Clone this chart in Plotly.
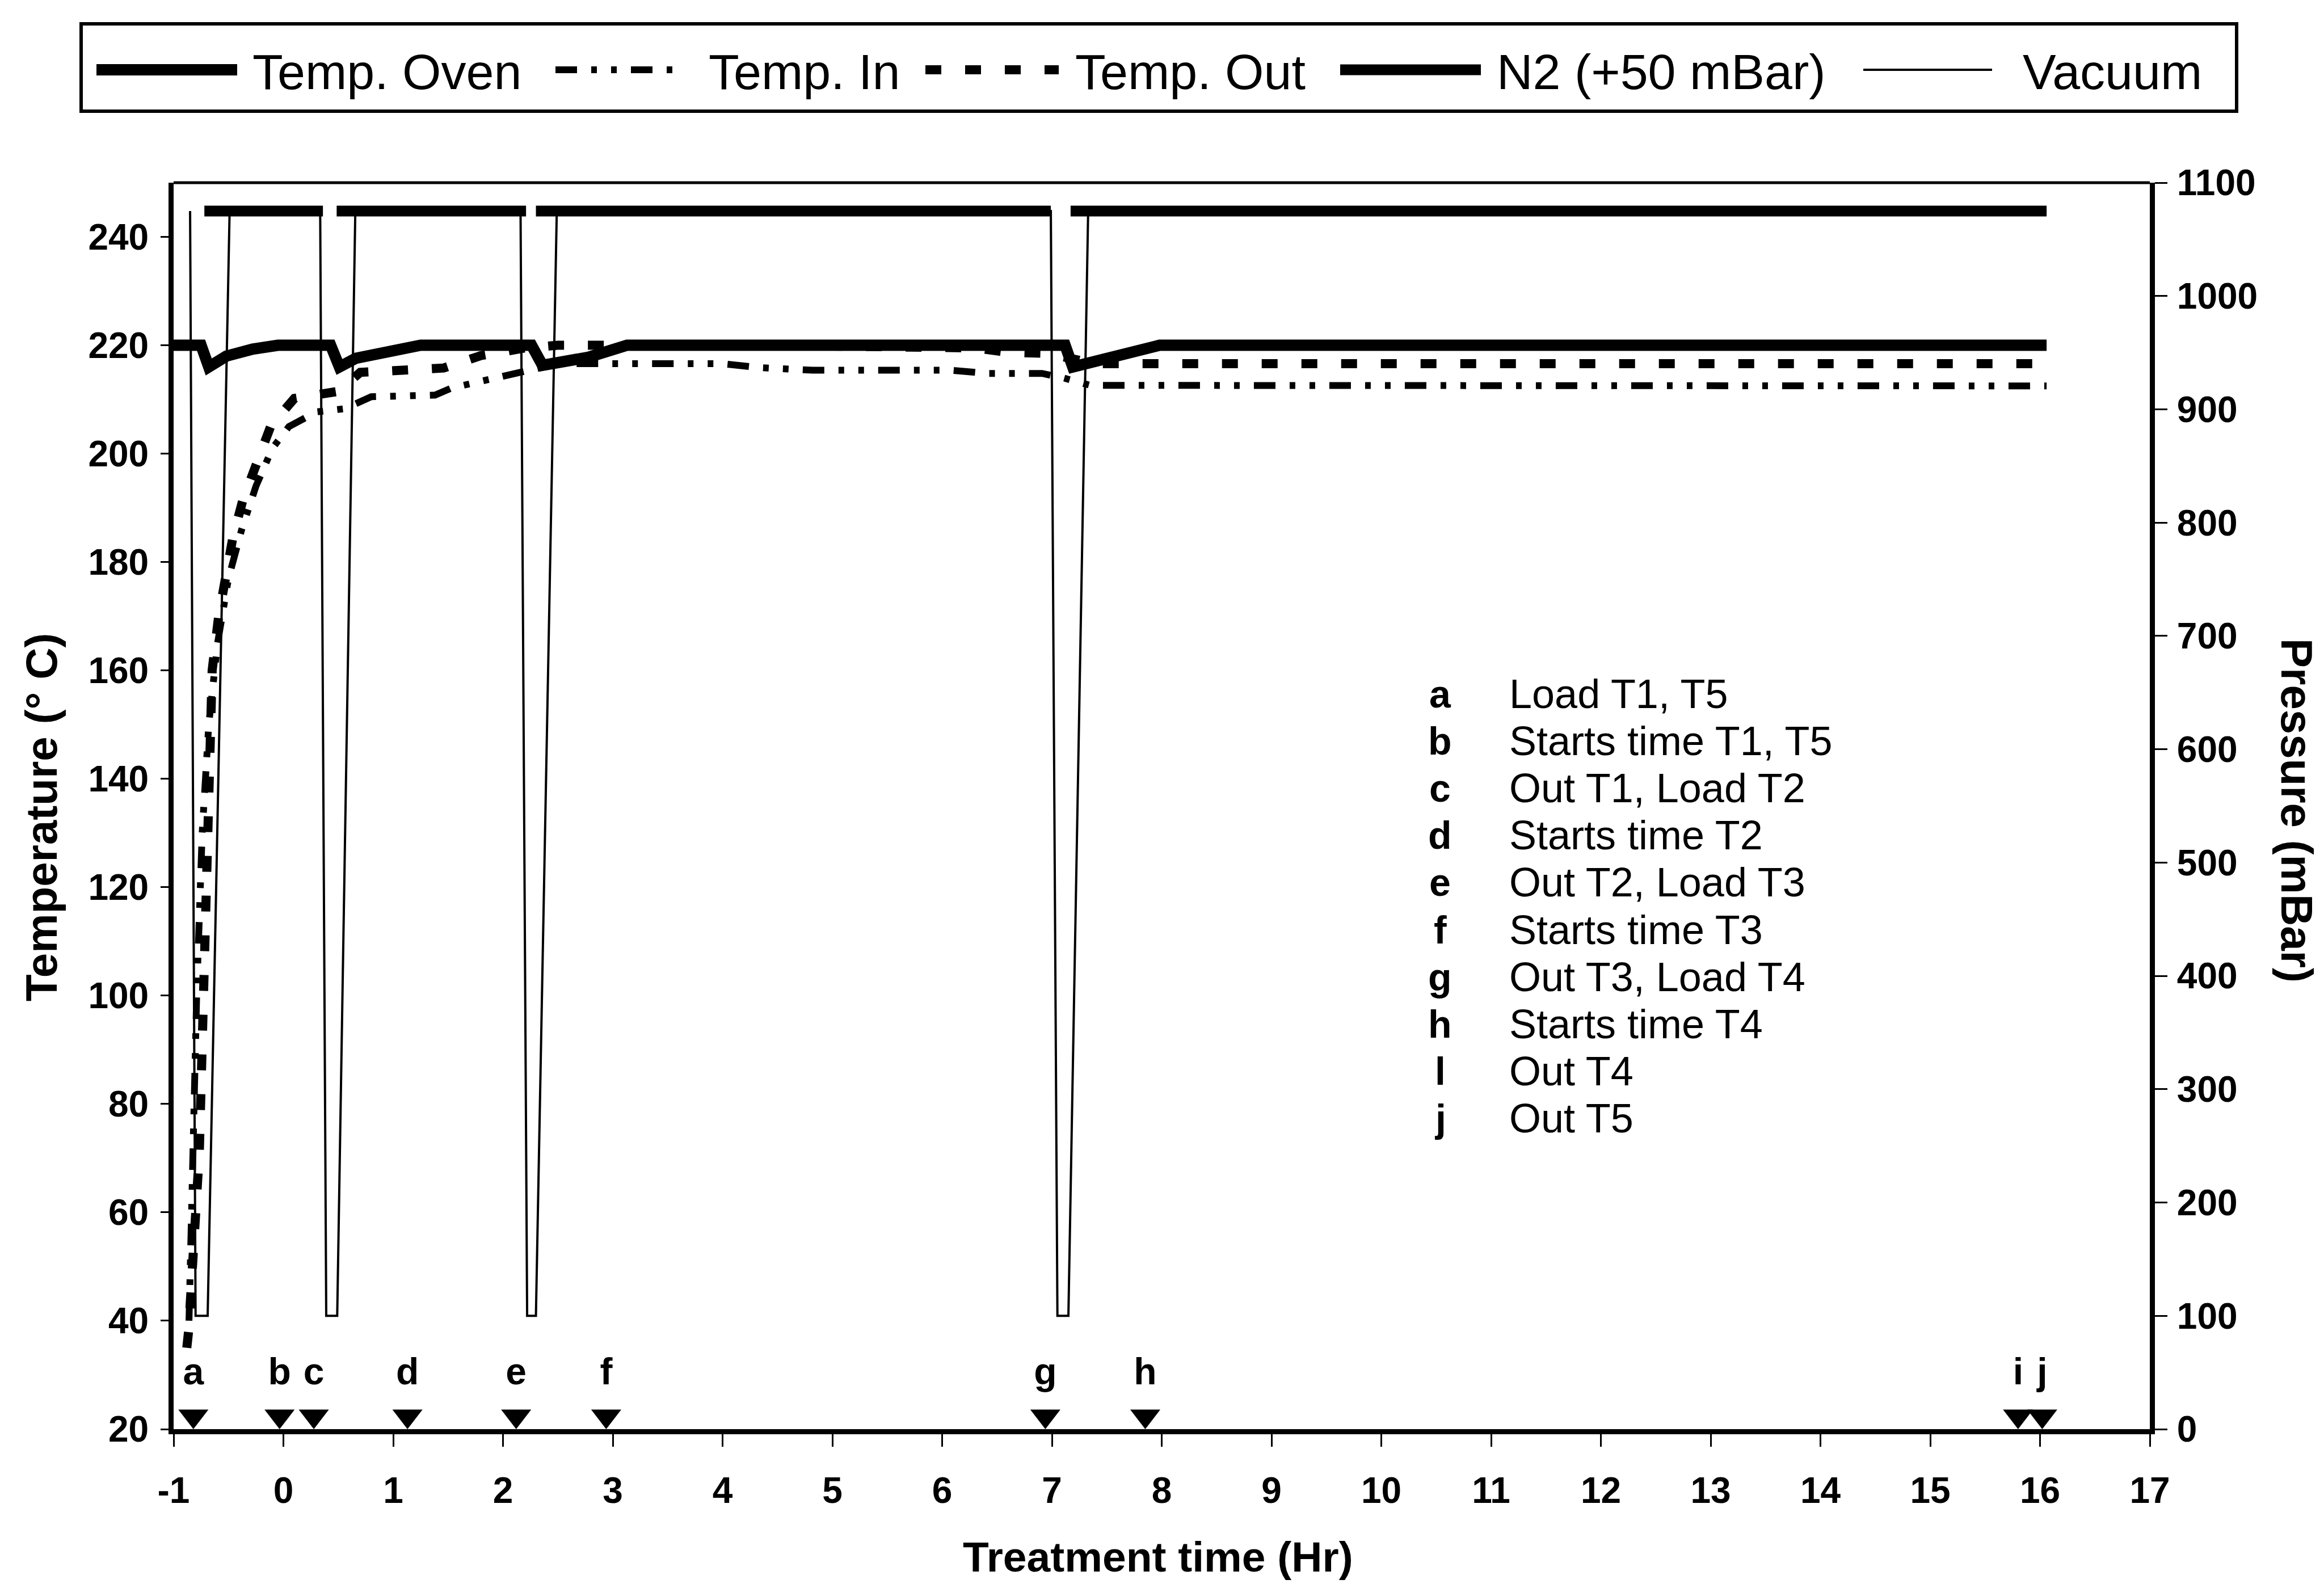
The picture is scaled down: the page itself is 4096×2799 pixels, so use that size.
import plotly.graph_objects as go

# ---------------------------------------------------------------- data
# treatment time (h) and temperatures (deg C)
oven_t = [-1.0, -0.75, -0.68, -0.52, -0.28, -0.05, 0.43, 0.51, 0.66, 0.99, 1.25,
          2.26, 2.36, 2.78, 3.13, 7.12, 7.19, 7.98, 16.06]
oven_T = [220, 220, 216, 218, 219.3, 220, 220, 216, 217.6, 218.9, 220,
          220, 216.3, 217.8, 220, 220, 216, 220, 220]

temp_in_t = [-0.86, -0.83, -0.79, -0.74, -0.68, -0.60, -0.50, -0.38, -0.25, -0.10,
             0.05, 0.30, 0.56, 0.80, 1.38, 1.53, 1.88, 2.08, 2.23, 2.50, 4.00,
             4.32, 4.82, 6.07, 6.42, 6.91, 7.10, 7.35, 16.06]
temp_in_T = [40, 70, 100, 130, 150, 165, 177, 186, 194, 201,
             205, 207.7, 208.3, 210.5, 210.8, 212.1, 213.8, 214.8, 215.4, 216.6, 216.6,
             215.9, 215.4, 215.4, 214.8, 214.8, 214.0, 212.6, 212.5]

temp_out_t = [-0.88, -0.864, -0.766, -0.717, -0.683, -0.649, -0.59, -0.52, -0.46, -0.37,
              -0.25, -0.115, 0.10, 0.30, 0.50, 0.70, 1.00, 1.46, 1.80, 2.20, 2.50,
              4.50, 6.30, 6.60, 6.95, 7.20, 7.40, 16.06]
temp_out_T = [35, 38, 71, 115, 138, 160, 170, 179, 184.6, 191.4,
              198.3, 205.1, 210.2, 211.0, 211.5, 215.0, 215.2, 215.8, 218.1, 219.5, 220,
              220, 219.5, 218.7, 218.5, 217.5, 216.6, 216.6]

# pressure (mbar)
n2_t = [-0.72, 0.36, None, 0.485, 2.21, None, 2.30, 6.99, None, 7.17, 16.06]
n2_p = [1075, 1075, None, 1075, 1075, None, 1075, 1075, None, 1075, 1075]

vac_t = [-0.85, -0.80, -0.69, -0.49, 0.335, 0.39, 0.49, 0.655, 2.16, 2.22, 2.30, 2.49,
         6.99, 7.05, 7.15, 7.33, 16.06]
vac_p = [1075, 100, 100, 1075, 1075, 100, 100, 1075, 1075, 100, 100, 1075,
         1075, 100, 100, 1075, 1075]

# process events
event_keys = ["a", "b", "c", "d", "e", "f", "g", "h", "i", "j"]
event_t = [-0.82, -0.035, 0.277, 1.13, 2.12, 2.94, 6.94, 7.85, 15.8, 16.02]
table_keys = ["a", "b", "c", "d", "e", "f", "g", "h", "l", "j"]
event_desc = ["Load T1, T5", "Starts time T1, T5", "Out T1, Load T2", "Starts time T2",
              "Out T2, Load T3", "Starts time T3", "Out T3, Load T4", "Starts time T4",
              "Out T4", "Out T5"]

x_ticks = list(range(-1, 18))
temp_ticks = list(range(20, 241, 20))
press_ticks = list(range(0, 1101, 100))

series_names = ["Temp. Oven", "Temp. In", "Temp. Out", "N2 (+50 mBar)", "Vacuum"]

# ---------------------------------------------------------------- layout geometry
W, H = 4096, 2799
L, R, T, B = 306, 3789, 322, 2519
FONT = "Liberation Sans, Arial, sans-serif"

IN_DASH = "38px,25px,10px,25px,10px,25px"
OUT_DASH = "28px,42px"
MARK_Y = 22.4
LABEL_Y = 30.0


def px(x):
    return (x - L) / (R - L)


def py(y):
    return (B - y) / (B - T)


fig = go.Figure()

fig.add_trace(go.Scatter(x=vac_t, y=vac_p, yaxis="y2", mode="lines", name=series_names[4],
                         line=dict(color="black", width=4), showlegend=False))
fig.add_trace(go.Scatter(x=n2_t, y=n2_p, yaxis="y2", mode="lines", name=series_names[3],
                         line=dict(color="black", width=19), connectgaps=False, showlegend=False))
fig.add_trace(go.Scatter(x=temp_in_t, y=temp_in_T, mode="lines", name=series_names[1],
                         line=dict(color="black", width=12, dash=IN_DASH), showlegend=False))
fig.add_trace(go.Scatter(x=temp_out_t, y=temp_out_T, mode="lines", name=series_names[2],
                         line=dict(color="black", width=16, dash=OUT_DASH), showlegend=False))
fig.add_trace(go.Scatter(x=oven_t, y=oven_T, mode="lines", name=series_names[0],
                         line=dict(color="black", width=20), showlegend=False))

# event markers on the time axis with their letters
fig.add_trace(go.Scatter(x=event_t, y=[MARK_Y] * len(event_t), mode="markers",
                         marker=dict(symbol="triangle-down", size=46, color="black"),
                         cliponaxis=False, showlegend=False, hoverinfo="skip"))
fig.add_trace(go.Scatter(x=event_t, y=[LABEL_Y] * len(event_t), mode="text",
                         text=event_keys, textposition="middle center",
                         textfont=dict(family=FONT, size=66, color="black", weight="bold"),
                         cliponaxis=False, showlegend=False, hoverinfo="skip"))

tickfont = dict(family=FONT, size=64, color="black", weight="bold")
fig.update_layout(
    width=W, height=H, autosize=False,
    margin=dict(l=L, r=W - R, t=T, b=H - B, pad=0),
    paper_bgcolor="white", plot_bgcolor="white",
    font=dict(family=FONT, color="black"),
    showlegend=False,
    xaxis=dict(range=[-1, 17], tickvals=x_ticks, ticktext=[str(v) for v in x_ticks],
               ticks="outside", ticklen=22, tickwidth=3, tickcolor="black",
               showline=True, linewidth=9, linecolor="black",
               showgrid=False, zeroline=False, tickfont=tickfont, ticklabelstandoff=22),
    yaxis=dict(range=[20, 250], tickvals=temp_ticks, ticks="outside", ticklen=14,
               tickwidth=3, tickcolor="black", showline=True, linewidth=9,
               linecolor="black", showgrid=False, zeroline=False, tickfont=tickfont,
               ticklabelstandoff=8),
    yaxis2=dict(range=[0, 1100], tickvals=press_ticks, overlaying="y", side="right",
                anchor="x", ticks="outside", ticklen=22, tickwidth=3, tickcolor="black",
                showline=True, linewidth=9, linecolor="black", showgrid=False,
                zeroline=False, tickfont=tickfont, ticklabelstandoff=4),
    yaxis3=dict(range=[0, 1100], tickvals=press_ticks, overlaying="y", side="right",
                anchor="x", ticks="inside", ticklen=20, tickwidth=3, tickcolor="black",
                showline=False, showgrid=False, zeroline=False, showticklabels=False),
)

shapes = []
annotations = []

# top frame of the plot area
shapes.append(dict(type="line", xref="paper", yref="paper", x0=0, x1=1, y0=1, y1=1,
                   line=dict(color="black", width=5)))

# axis titles
title_font = dict(family=FONT, size=78, color="black", weight="bold")
annotations.append(dict(text="Temperature (° C)", xref="paper", yref="paper",
                        x=px(73), y=py(1440), textangle=-90, showarrow=False,
                        xanchor="center", yanchor="middle", font=title_font))
annotations.append(dict(text="Pressure (mBar)", xref="paper", yref="paper",
                        x=px(4048), y=py(1428), textangle=90, showarrow=False,
                        xanchor="center", yanchor="middle", font=title_font))
annotations.append(dict(text="Treatment time (Hr)", xref="paper", yref="paper",
                        x=px(2041), y=py(2744), showarrow=False,
                        xanchor="center", yanchor="middle",
                        font=dict(family=FONT, size=75, color="black", weight="bold")))

# event key table
for k, (key, desc) in enumerate(zip(table_keys, event_desc)):
    yy = py(1223 + 83.1 * k)
    annotations.append(dict(text=key, xref="paper", yref="paper", x=px(2538), y=yy,
                            showarrow=False, xanchor="center", yanchor="middle",
                            font=dict(family=FONT, size=68, color="black", weight="bold")))
    annotations.append(dict(text=desc, xref="paper", yref="paper", x=px(2658), y=yy,
                            showarrow=False, xanchor="left", yanchor="middle",
                            font=dict(family=FONT, size=72, color="black")))

# legend box with line samples
shapes.append(dict(type="rect", xref="paper", yref="paper", x0=px(143), x1=px(3942),
                   y0=py(42), y1=py(196), line=dict(color="black", width=6),
                   fillcolor="rgba(0,0,0,0)"))
legend_y = py(123)
samples = [
    (170, 418, 20, "solid"),
    (979, 1187, 12, IN_DASH),
    (1631, 1866, 16, OUT_DASH),
    (2362, 2610, 19, "solid"),
    (3284, 3511, 4, "solid"),
]
text_x = [443, 1247, 1893, 2636, 3563]
for (x0, x1, w, dash), tx, name in zip(samples, text_x, series_names):
    shapes.append(dict(type="line", xref="paper", yref="paper", x0=px(x0), x1=px(x1),
                       y0=legend_y, y1=legend_y, line=dict(color="black", width=w, dash=dash)))
    annotations.append(dict(text=name, xref="paper", yref="paper", x=px(tx), y=py(127),
                            showarrow=False, xanchor="left", yanchor="middle",
                            font=dict(family=FONT, size=88, color="black")))

fig.update_layout(shapes=shapes, annotations=annotations)

fig.write_html("out.html")
